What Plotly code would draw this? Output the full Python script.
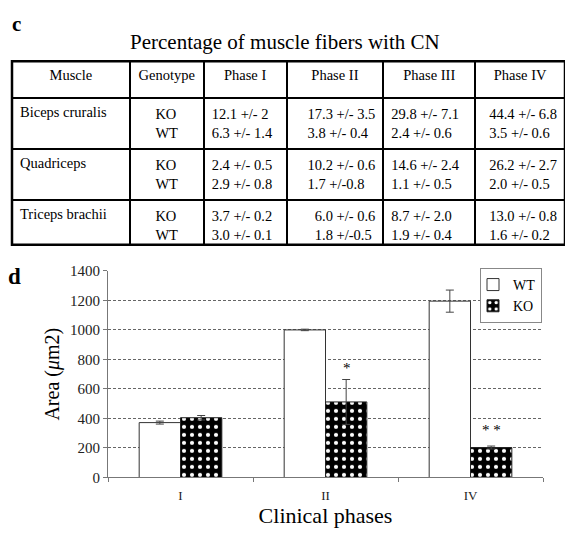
import plotly.graph_objects as go

W, H = 565, 534

# ---- table data ----
table_title = "Percentage of muscle fibers with CN"
header = ["Muscle", "Genotype", "Phase I", "Phase II", "Phase III", "Phase IV"]
muscles = ["Biceps cruralis", "Quadriceps", "Triceps brachii"]
genotypes = ["KO", "WT"]
phase_I_KO = ["12.1 +/- 2", "2.4 +/- 0.5", "3.7 +/- 0.2"]
phase_I_WT = ["6.3 +/- 1.4", "2.9 +/- 0.8", "3.0 +/- 0.1"]
phase_II_KO = ["17.3 +/- 3.5", "10.2 +/- 0.6", "6.0 +/- 0.6"]
phase_II_WT = ["3.8 +/- 0.4", "1.7 +/-0.8", "1.8 +/-0.5"]
phase_III_KO = ["29.8 +/- 7.1", "14.6 +/- 2.4", "8.7 +/- 2.0"]
phase_III_WT = ["2.4 +/- 0.6", "1.1 +/- 0.5", "1.9 +/- 0.4"]
phase_IV_KO = ["44.4 +/- 6.8", "26.2 +/- 2.7", "13.0 +/- 0.8"]
phase_IV_WT = ["3.5 +/- 0.6", "2.0 +/- 0.5", "1.6 +/- 0.2"]

# ---- bar chart data ----
phases = ["I", "II", "IV"]
wt_area = [372, 1000, 1195]
wt_err = [10, 5, 75]
ko_area = [405, 512, 203]
ko_err = [15, 152, 10]
sig_labels = ["", "*", "* *"]
sig_y = [0, 672, 252]

SERIF = "Liberation Serif"

def pair(a, b):
    return [f"{x}<br>{y}" for x, y in zip(a, b)]

cells = [
    muscles,
    ["<br>".join(genotypes)] * len(muscles),
    pair(phase_I_KO, phase_I_WT),
    pair(phase_II_KO, phase_II_WT),
    pair(phase_III_KO, phase_III_WT),
    pair(phase_IV_KO, phase_IV_WT),
]

tbl_x = [12 / W, 1.0]
tbl_y = [1 - 245 / H, 1 - 55 / H]

fig = go.Figure()

fig.add_trace(go.Table(
    domain=dict(x=tbl_x, y=tbl_y),
    columnwidth=[118, 74, 83, 97, 92, 90],
    header=dict(values=header, align="center", height=37,
                line=dict(color="black", width=2), fill_color="white",
                font=dict(family=SERIF, size=14.5, color="black")),
    cells=dict(values=cells,
               align=["left", "center", "left", "right", "left", "right"],
               height=48, line=dict(color="black", width=2), fill_color="white",
               font=dict(family=SERIF, size=14.5, color="black")),
))

fig.add_trace(go.Bar(
    name="WT", x=phases, y=wt_area,
    marker=dict(color="white", line=dict(color="#333", width=1)),
    error_y=dict(type="data", array=wt_err, color="#444", thickness=1, width=4),
))
fig.add_trace(go.Bar(
    name="KO", x=phases, y=ko_area,
    marker=dict(color="black", line=dict(color="#222", width=1),
                pattern=dict(shape=".", fgcolor="white", bgcolor="black",
                             size=8, solidity=0.22, fillmode="replace")),
    error_y=dict(type="data", array=ko_err, color="#444", thickness=1, width=4),
))

for p, s, yv in zip(phases, sig_labels, sig_y):
    if s:
        fig.add_annotation(x=p, y=yv, xref="x", yref="y", text=s, showarrow=False,
                           xshift=21, yanchor="bottom",
                           font=dict(family=SERIF, size=15, color="black"))

fig.add_annotation(x=0.505, y=1 - 35 / H, xref="paper", yref="paper",
                   text=table_title, showarrow=False,
                   xanchor="center", yanchor="middle",
                   font=dict(family=SERIF, size=21, color="black"))
fig.add_annotation(x=10 / W, y=1 - 16 / H, xref="paper", yref="paper",
                   text="<b>c</b>", showarrow=False, xanchor="left", yanchor="middle",
                   font=dict(family=SERIF, size=21, color="black"))
fig.add_annotation(x=6 / W, y=1 - 277 / H, xref="paper", yref="paper",
                   text="<b>d</b>", showarrow=False, xanchor="left", yanchor="middle",
                   font=dict(family=SERIF, size=23, color="black"))

# outer frame of the table
fig.add_shape(type="rect", xref="paper", yref="paper",
              x0=tbl_x[0], x1=tbl_x[1], y0=1 - 244 / H, y1=tbl_y[1],
              line=dict(color="black", width=2.5))

ydom = [1 - 484 / H, 1 - 271 / H]
fig.update_layout(
    width=W, height=H,
    margin=dict(l=0, r=0, t=0, b=0),
    paper_bgcolor="white", plot_bgcolor="white",
    barmode="group", bargap=0.43, bargroupgap=0.0,
    showlegend=True,
    legend=dict(x=542 / W, y=1 - 268 / H, xanchor="right", yanchor="top",
                bgcolor="white", bordercolor="#888", borderwidth=1,
                font=dict(family=SERIF, size=14, color="black"),
                itemwidth=30, tracegroupgap=0, indentation=-8),
    xaxis=dict(domain=[108 / W, 543 / W], showline=True, linecolor="#777",
               ticks="outside", ticklen=4, tickcolor="#777", tickson="boundaries",
               ticklabelstandoff=6,
               tickfont=dict(family=SERIF, size=13, color="#222"),
               title=dict(text="Clinical phases", standoff=4,
                          font=dict(family=SERIF, size=22, color="black"))),
    yaxis=dict(domain=ydom, range=[0, 1400], tickvals=list(range(0, 1401, 200)),
               showgrid=False, zeroline=False, showline=True, linecolor="#777",
               ticks="outside", ticklen=4, tickcolor="#777",
               tickfont=dict(family=SERIF, size=15, color="#222"),
               title=dict(text="Area (<i>μ</i>m2)", standoff=4,
                          font=dict(family=SERIF, size=20, color="black"))),
    yaxis2=dict(domain=ydom, range=[0, 1400], overlaying="y", side="left",
                tickvals=list(range(200, 1201, 200)), showticklabels=False,
                showgrid=True, gridcolor="#666", griddash="3px,2px", gridwidth=1,
                zeroline=False, showline=False),
)
# invisible trace so that the grid-only axis is drawn
fig.add_trace(go.Scatter(x=phases, y=[None] * len(phases), yaxis="y2",
                         showlegend=False, hoverinfo="skip"))

fig.write_html("out.html", config={"displayModeBar": False},
               post_script="document.body.style.margin='0';"
                           "document.body.style.overflow='hidden';")
